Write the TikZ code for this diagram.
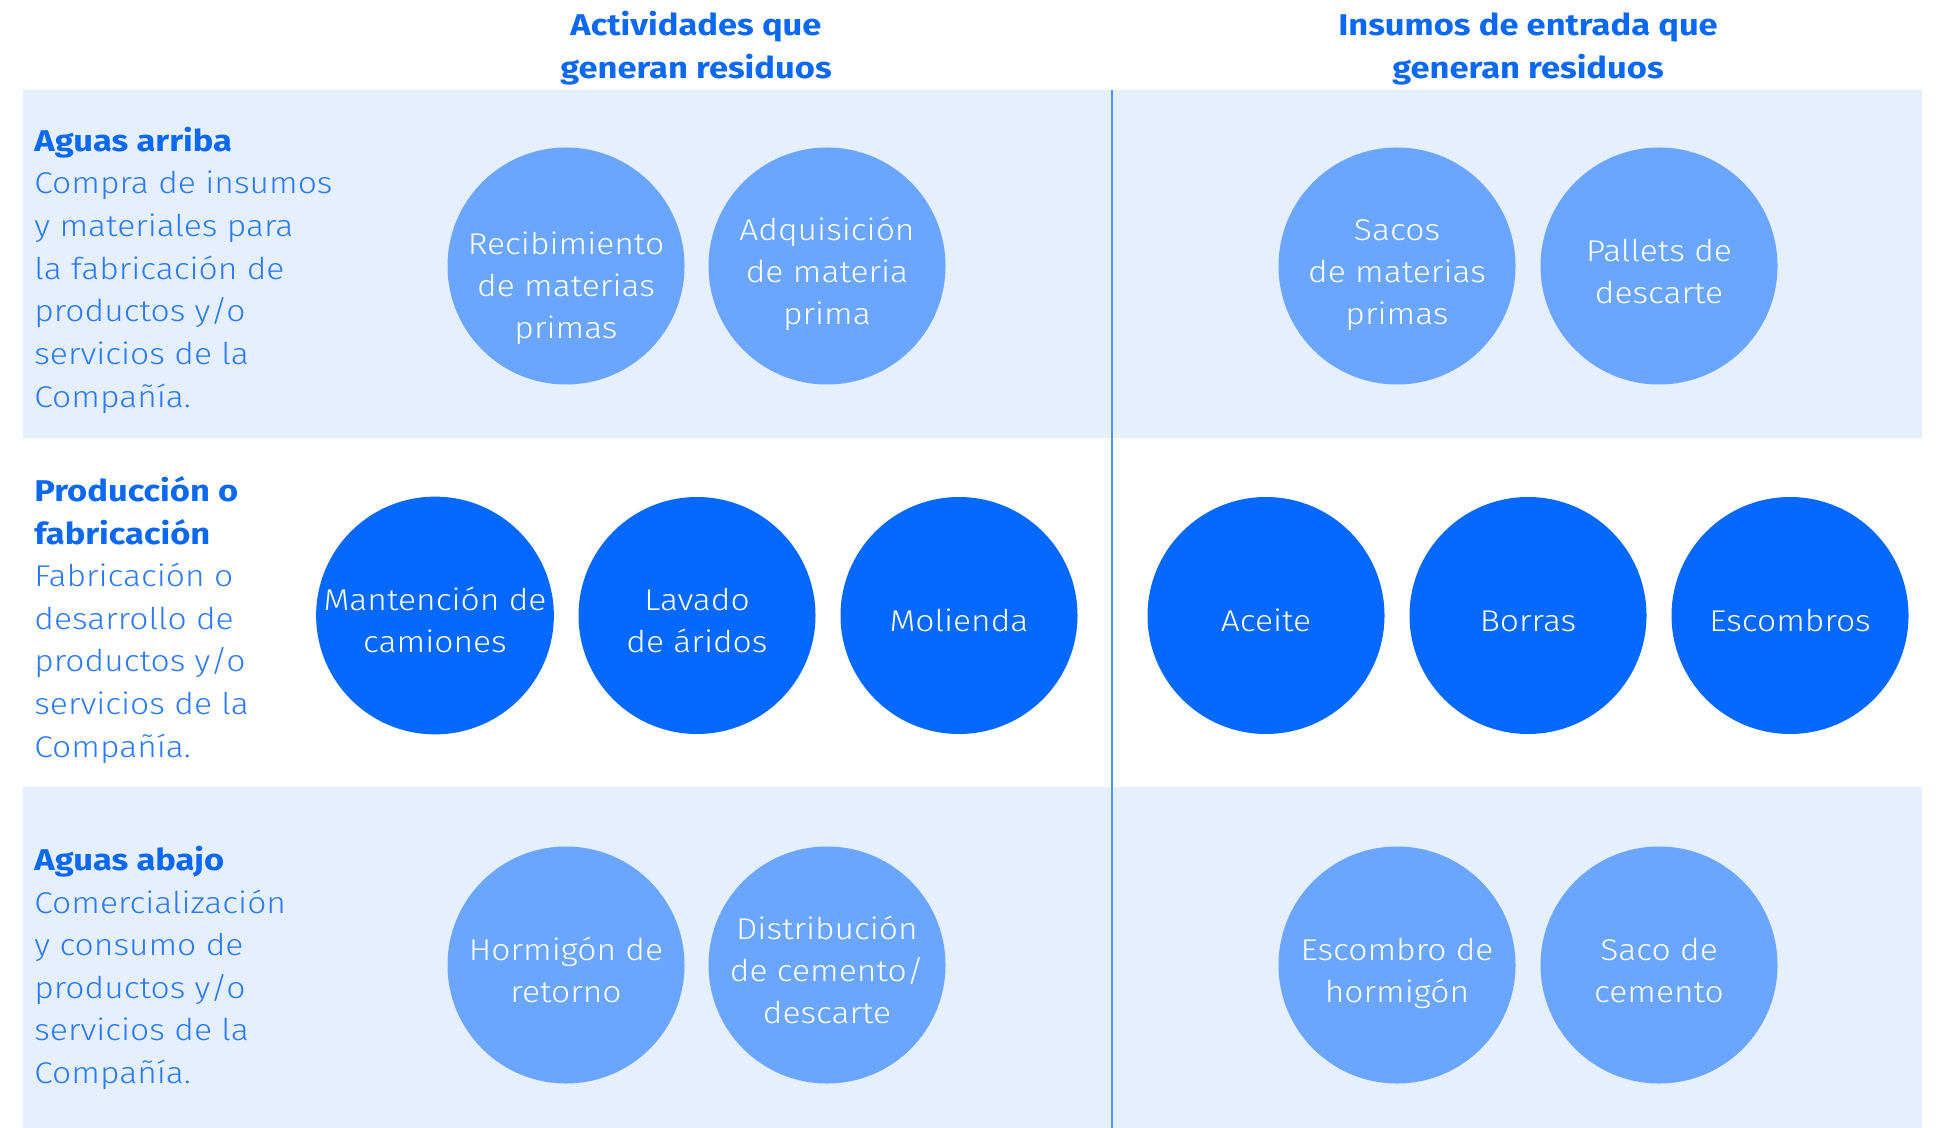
\documentclass[tikz,border=0pt]{standalone}
\usepackage{fontspec}
\IfFontExistsTF{Fira Sans Light}{\newfontfamily\lightf{Fira Sans Light}[FakeStretch=1.12]}{\newfontfamily\lightf{Fira Sans}[FakeStretch=1.12]}
\newfontfamily\headf{Fira Sans}[UprightFont=* Bold, FakeStretch=1.15]
\setmainfont{Fira Sans}
\definecolor{bandc}{HTML}{E5EFFD}
\definecolor{lightc}{HTML}{6AA6FF}
\definecolor{darkc}{HTML}{0569FF}
\definecolor{headc}{HTML}{0A68F2}
\definecolor{bodyc}{HTML}{2C7AF5}
\definecolor{linec}{HTML}{4D94F5}
\newcommand\ctext[2][4pt]{\raisebox{-#1}[\height][\depth]{\begin{tabular}{@{}c@{}}#2\end{tabular}}}
\tikzset{
  bubble/.style={circle, minimum size=118.5pt, inner sep=0pt, text=white,
     font=\lightf\fontsize{15}{21}\selectfont},
  lightbubble/.style={bubble, fill=lightc},
  darkbubble/.style={bubble, fill=darkc},
  coltitle/.style={align=center, text=headc, font=\headf\fontsize{15}{21.5}\selectfont, inner sep=0pt, anchor=base},
  rowtext/.style={align=left, anchor=base west, inner sep=0pt, text=bodyc, font=\lightf\fontsize{15}{21.3}\selectfont},
  band/.style={fill=bandc},
  divider/.style={draw=linec, line width=1pt}
}
\newcommand\rhead[1]{{\headf\color{headc}#1}}
\begin{document}
\begin{tikzpicture}[x=0.5pt,y=-0.5pt]
\useasboundingbox (0,0) rectangle (1936,1128);
% bands
\fill[band] (23,90) rectangle (1922,438);
\fill[band] (23,787) rectangle (1922,1128);
% divider
\coordinate (dtop) at (1112,90);
\coordinate (dbot) at (1112,1128);
\draw[divider] (dtop) -- (dbot);
% column titles (anchored at last baseline)
\node[coltitle] (t1) at (696,79) {Actividades que\\generan residuos};
\node[coltitle] (t2) at (1528,79) {Insumos de entrada que\\generan residuos};
% row texts (anchored at last baseline)
\node[rowtext] (r1) at (34,407) {\rhead{Aguas arriba}\\Compra de insumos\\y materiales para\\la fabricación de\\productos y/o\\servicios de la\\Compañía.};
\node[rowtext] (r2) at (34,757) {\rhead{Producción o}\\\rhead{fabricación}\\Fabricación o\\desarrollo de\\productos y/o\\servicios de la\\Compañía.};
\node[rowtext] (r3) at (34,1083.5) {\rhead{Aguas abajo}\\Comercialización\\y consumo de\\productos y/o\\servicios de la\\Compañía.};
% row 1
\node[lightbubble] (a1) at (566,266) {\ctext[11.3pt]{Recibimiento\\de materias\\primas}};
\node[lightbubble] (a2) at (827,266) {\ctext{Adquisición\\de materia\\prima}};
\node[lightbubble] (b1) at (1397,266) {\ctext{Sacos\\de materias\\primas}};
\node[lightbubble] (b2) at (1659,266) {\ctext{Pallets de\\descarte}};
% row 2
\node[darkbubble] (a3) at (435,615.5) {\ctext{Mantención de\\camiones}};
\node[darkbubble] (a4) at (697,615.5) {\ctext{Lavado\\de áridos}};
\node[darkbubble] (a5) at (959,615.5) {\ctext{Molienda}};
\node[darkbubble] (b3) at (1266,615.5) {\ctext{Aceite}};
\node[darkbubble] (b4) at (1528,615.5) {\ctext{Borras}};
\node[darkbubble] (b5) at (1790,615.5) {\ctext{Escombros}};
% row 3
\node[lightbubble] (a6) at (566,965) {\ctext{Hormigón de\\retorno}};
\node[lightbubble] (a7) at (827,965) {\ctext{Distribución\\de cemento/\\descarte}};
\node[lightbubble] (b6) at (1397,965) {\ctext{Escombro de\\hormigón}};
\node[lightbubble] (b7) at (1659,965) {\ctext{Saco de\\cemento}};
\end{tikzpicture}
\end{document}
